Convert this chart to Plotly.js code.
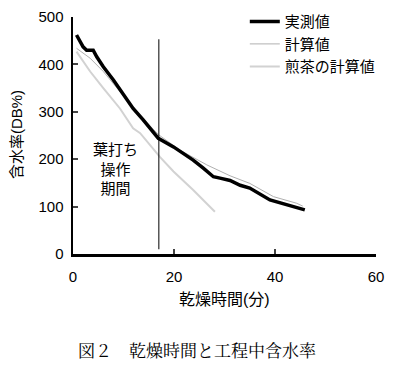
<!DOCTYPE html>
<html><head><meta charset="utf-8">
<script src="https://cdn.plot.ly/plotly-3.0.1.min.js"></script>
<style>html,body{margin:0;padding:0;background:#fff}</style>
</head><body>
<div id="chart" style="width:399px;height:367px"></div>
<script>
var measuredX = [0.7, 2.0, 2.7, 4.0, 4.7, 6.0, 8.0, 10.0, 11.9, 13.9, 15.9, 16.9, 19.9, 23.8, 25.8, 27.8, 29.1, 31.1, 33.1, 35.0, 39.0, 43.0, 45.9];
var measuredY = [462, 437, 430, 430, 416, 395, 367, 335, 307, 283, 258, 244, 226, 198, 181, 163, 160, 155, 145, 139, 114, 101, 93];
var calcX = [0.7, 3.4, 6.0, 9.3, 12.6, 16.9, 21.2, 26.5, 31.1, 35.0, 39.7, 44.3, 45.5];
var calcY = [434, 413, 385, 342, 300, 252, 219, 188, 165, 149, 121, 107, 101];
var senchaX = [0.7, 3.4, 6.0, 9.3, 11.9, 13.3, 17.2, 19.9, 23.8, 28.1];
var senchaY = [427, 385, 350, 307, 265, 255, 205, 174, 135, 89];
var periodX = [17, 17];
var periodY = [10, 453];
var seriesNames = ['実測値', '計算値', '煎茶の計算値'];
var xTicks = [0, 20, 40, 60];
var yTicks = [0, 100, 200, 300, 400, 500];

var jp = '"Liberation Sans", "Noto Sans CJK JP", Arial, sans-serif';
var traces = [
  {x: senchaX, y: senchaY, name: seriesNames[2], mode: 'lines', line: {color: '#d2d2d2', width: 2}, legendrank: 3},
  {x: calcX, y: calcY, name: seriesNames[1], mode: 'lines', line: {color: '#b0b0b0', width: 1}, legendrank: 2},
  {x: measuredX, y: measuredY, name: seriesNames[0], mode: 'lines', line: {color: '#000', width: 3.5}, legendrank: 1},
  {x: periodX, y: periodY, mode: 'lines', showlegend: false, line: {color: '#000', width: 1}}
];
var layout = {
  width: 399, height: 367,
  margin: {l: 73, r: 23, t: 17, b: 113, autoexpand: false},
  paper_bgcolor: '#fff', plot_bgcolor: '#fff',
  font: {family: jp, color: '#000', size: 15},
  showlegend: true,
  legend: {x: 0.567, y: 1.05, xanchor: 'left', yanchor: 'top', bgcolor: 'rgba(0,0,0,0)',
           font: {size: 15, family: jp}, tracegroupgap: 0, itemwidth: 30, traceorder: 'normal'},
  xaxis: {range: [0, 60], tickvals: xTicks, ticks: 'inside', ticklen: 5, tickwidth: 2,
          showline: true, linewidth: 2.5, linecolor: '#000', showgrid: false, zeroline: false,
          tickfont: {size: 15}, ticklabelstandoff: 7},
  yaxis: {range: [0, 500], tickvals: yTicks, ticks: 'inside', ticklen: 5, tickwidth: 2,
          showline: true, linewidth: 2.5, linecolor: '#000', showgrid: false, zeroline: false,
          tickfont: {size: 15}, ticklabelstandoff: 4},
  annotations: [
    {text: '葉打ち<br>操作<br>期間', x: 8.5, y: 180, xref: 'x', yref: 'y', showarrow: false,
     font: {size: 15, family: jp}, align: 'center'},
    {text: '乾燥時間(分)', x: 0.50, y: -0.194, xref: 'paper', yref: 'paper', xanchor: 'center', yanchor: 'middle',
     showarrow: false, font: {size: 16, family: jp}},
    {text: '含水率(DB%)', x: -0.188, y: 0.502, xref: 'paper', yref: 'paper', xanchor: 'center', yanchor: 'middle',
     textangle: -90, showarrow: false, font: {size: 15, family: jp}},
    {text: '図２　乾燥時間と工程中含水率', x: 0.41, y: -0.405, xref: 'paper', yref: 'paper', xanchor: 'center', yanchor: 'middle',
     showarrow: false, font: {size: 17, family: '"Noto Serif CJK JP", "Noto Sans CJK JP", serif'}}
  ]
};
Plotly.newPlot('chart', traces, layout, {displayModeBar: false, staticPlot: true});
</script>
</body></html>
